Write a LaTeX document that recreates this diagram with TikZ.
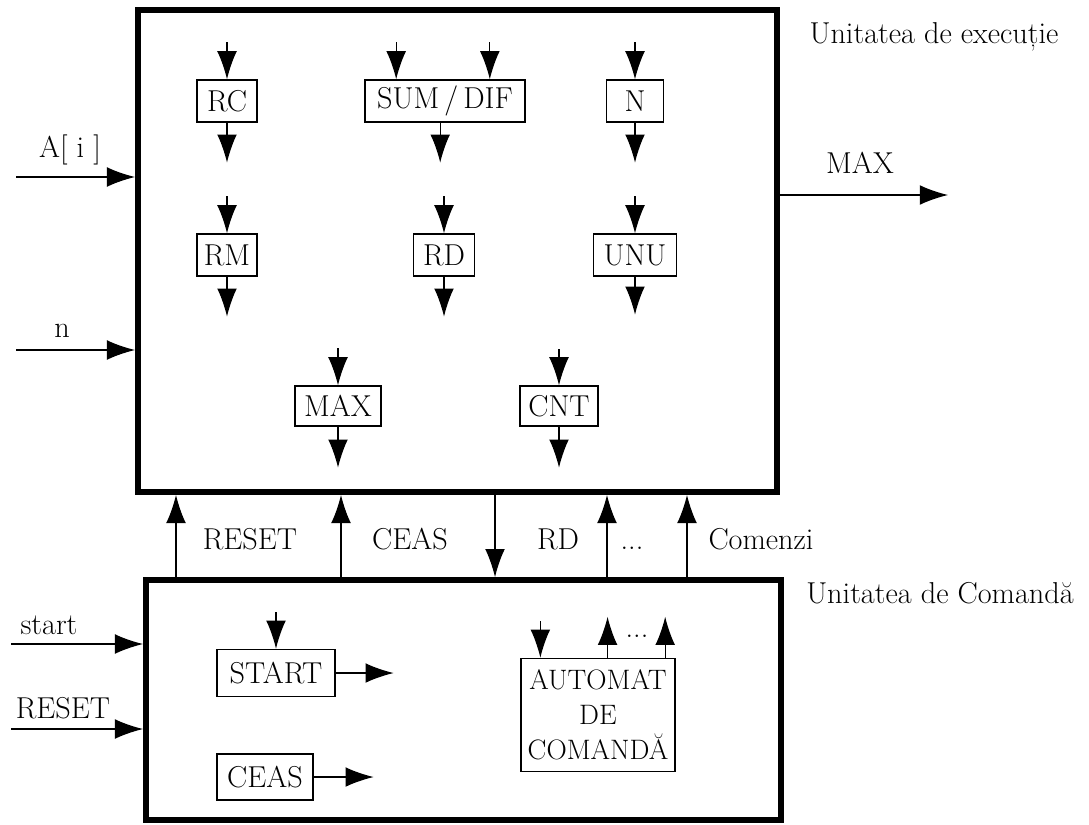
\documentclass[tikz,border=0pt]{standalone}
\usepackage{tikz}
\usetikzlibrary{arrows.meta}

\tikzset{
  bloc/.style={draw,line width=0.9pt,inner sep=2pt,minimum height=1.05cm},
  unitate/.style={draw,line width=4pt,inner sep=0pt},
  sig/.style={line width=0.9pt},
}

\begin{document}
\begin{tikzpicture}[>={Latex[length=20pt,width=14pt]},x=0.025cm,y=-0.025cm,font=\fontsize{21.5}{26}\selectfont]
\useasboundingbox (0,0) rectangle (1089,824);
\node[unitate,minimum width=15.975cm,minimum height=12.05cm] (ue) at (457.5,251) {};
\node[unitate,minimum width=15.875cm,minimum height=6cm] (uc) at (463.5,700) {};
\node[anchor=base] (tue) at (934,43) {Unitatea de execuție};
\node[anchor=base] (tuc) at (940,603) {Unitatea de Comandă};

\node[bloc,minimum width=1.5cm] (rc) at (227,101) {RC};
\node[bloc,minimum width=4cm] (sum) at (445,101) {SUM\,/\,DIF};
\node[bloc,minimum width=1.43cm] (n) at (635,101) {N};
\node[bloc,minimum width=1.5cm] (rm) at (227,255) {RM};
\node[bloc,minimum width=1.53cm] (rd) at (444,255) {RD};
\node[bloc,minimum width=2.08cm] (unu) at (635,255) {UNU};
\node[bloc,minimum width=2.15cm,minimum height=1cm] (max) at (338,406) {MAX};
\node[bloc,minimum width=1.95cm,minimum height=1cm] (cnt) at (559,406) {CNT};

\draw[sig,<-] (rc.north) -- ++(0,-37);
\draw[sig,->] (rc.south) -- ++(0,40);
\draw[sig,<-] ([xshift=-1.22cm]sum.north) -- ++(0,-37);
\draw[sig,<-] ([xshift=1.12cm]sum.north) -- ++(0,-37);
\draw[sig,->] ([xshift=-0.12cm]sum.south) -- ++(0,40);
\draw[sig,<-] (n.north) -- ++(0,-37);
\draw[sig,->] (n.south) -- ++(0,40);
\draw[sig,<-] (rm.north) -- ++(0,-37);
\draw[sig,->] (rm.south) -- ++(0,40);
\draw[sig,<-] (rd.north) -- ++(0,-37);
\draw[sig,->] (rd.south) -- ++(0,40);
\draw[sig,<-] (unu.north) -- ++(0,-37);
\draw[sig,->] (unu.south) -- ++(0,38);
\draw[sig,<-] (max.north) -- ++(0,-37);
\draw[sig,->] (max.south) -- ++(0,41);
\draw[sig,<-] (cnt.north) -- ++(0,-36);
\draw[sig,->] (cnt.south) -- ++(0,41);

\coordinate (ai) at (16,177);
\coordinate (nin) at (16,350);
\coordinate (mout) at (948,195);
\draw[sig,->] (ai) -- (ai -| ue.west);
\draw[sig,->] (nin) -- (nin -| ue.west);
\draw[sig,->] (mout -| ue.east) -- (mout);
\node[anchor=base] (lai) at (70,157) {A[ i ]};
\node[anchor=base] (ln) at (62,337) {n};
\node[anchor=base] (lmax) at (860,173) {MAX};

\foreach \bx in {176,341,607,687}
  \draw[sig,->] (uc.north -| \bx,0) -- (ue.south -| \bx,0);
\draw[sig,->] (ue.south -| 495,0) -- (uc.north -| 495,0);
\node[anchor=base] (lreset) at (250,549) {RESET};
\node[anchor=base] (lceas) at (410,549) {CEAS};
\node[anchor=base] (lrd) at (558,549) {RD};
\node[anchor=base] (ldots) at (632,549) {...};
\node[anchor=base] (lcom) at (761,549) {Comenzi};

\coordinate (sin) at (11,644);
\coordinate (rin) at (11,729);
\draw[sig,->] (sin) -- (sin -| uc.west);
\draw[sig,->] (rin) -- (rin -| uc.west);
\node[anchor=base] (lstart) at (49,634) {start};
\node[anchor=base] (lrin) at (63,718) {RESET};

\node[bloc,minimum width=2.95cm,minimum height=1.18cm] (start) at (276,673) {START};
\node[bloc,minimum width=2.4cm,minimum height=1.15cm] (ceas) at (265,777) {CEAS};
\node[bloc,minimum width=3.85cm,minimum height=2.83cm,inner sep=1pt,align=center,font=\fontsize{20}{25}\selectfont] (aut) at (598,715) {AUTOMAT\\DE\\COMANDĂ};
\draw[sig,<-] (start.north) -- ++(0,-37);
\draw[sig,->] (start.east) -- ++(58,0);
\draw[sig,->] (ceas.east) -- ++(60,0);
\draw[sig,<-] ([xshift=0.5cm]aut.north west) -- ++(0,-37);
\draw[sig,->] ([xshift=2.18cm]aut.north west) -- ++(0,-41);
\draw[sig,->] ([xshift=3.62cm]aut.north west) -- ++(0,-41);
\node[anchor=base] (ldots2) at (637,637) {...};
\end{tikzpicture}
\end{document}
